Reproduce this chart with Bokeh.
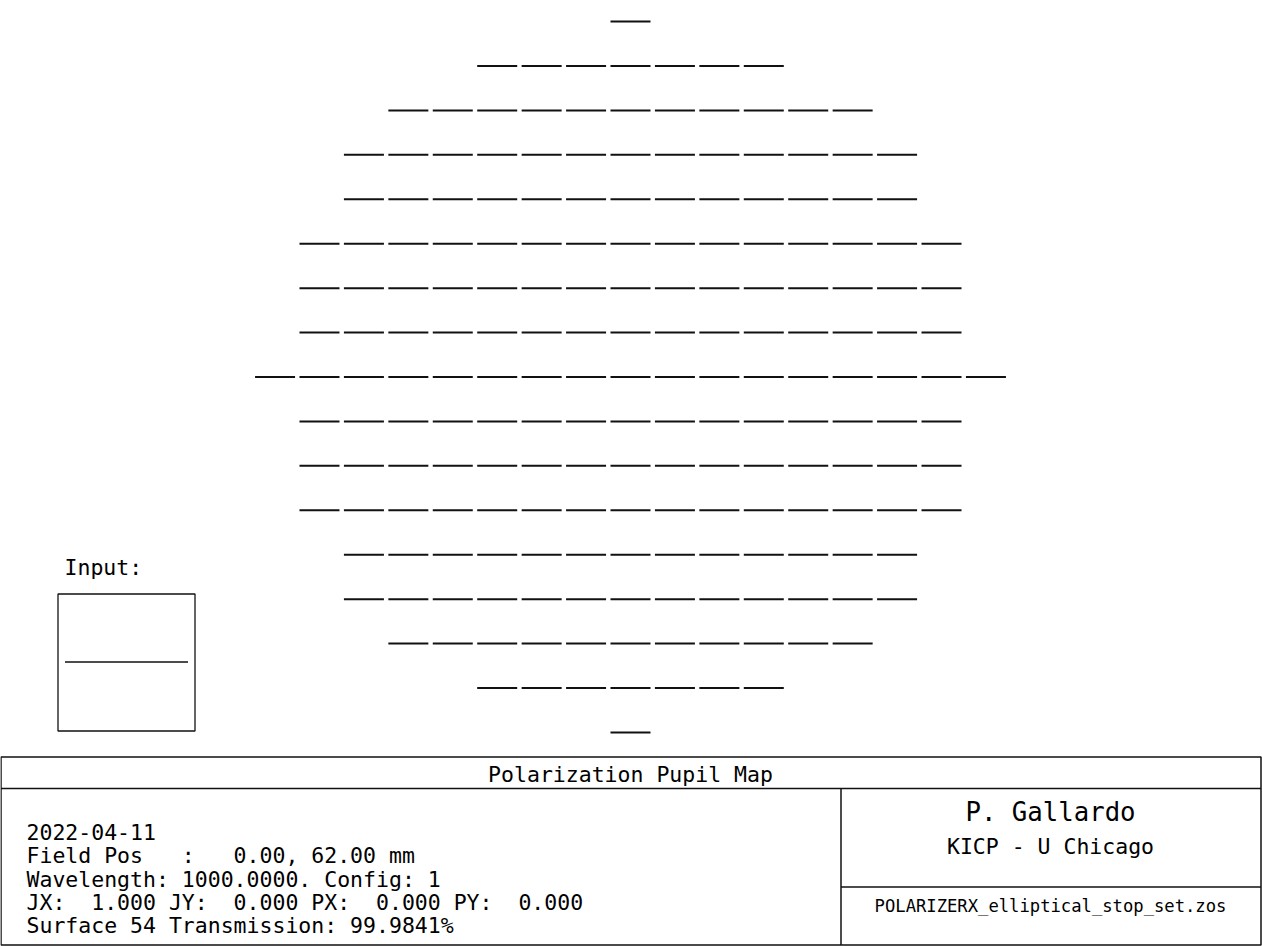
from bokeh.plotting import figure
from bokeh.models import Range1d
from bokeh.core.properties import value
from bokeh.embed import file_html
from bokeh.resources import INLINE
import math

# ---- data ----
# number of sampled pupil points in each row (top to bottom), 17x17 grid
row_counts = [1, 7, 11, 13, 13, 15, 15, 15, 17, 15, 15, 15, 13, 13, 11, 7, 1]
# polarization ellipse orientation (deg) and normalized major axis per row (all linear X)
row_angles = [0.0] * 17
row_major = [1.0] * 17

title = "Polarization Pupil Map"
info_lines = [
    "2022-04-11",
    "Field Pos   :   0.00, 62.00 mm",
    "Wavelength: 1000.0000. Config: 1",
    "JX:  1.000 JY:  0.000 PX:  0.000 PY:  0.000",
    "Surface 54 Transmission: 99.9841%",
]
author = "P. Gallardo"
institute = "KICP - U Chicago"
filename = "POLARIZERX_elliptical_stop_set.zos"

# ---- layout (pixels) ----
W, H = 1262, 946
cx, cy = 630.0, 376.5
pitch = 44.43
half_len = 20.0
FONT = "DejaVu Sans Mono"


def keep_spaces(s):
    # SVG collapses runs of spaces; use no-break spaces to keep monospace alignment
    return s.replace(" ", "\u00a0")


x0s, y0s, x1s, y1s = [], [], [], []
nrows = len(row_counts)
for r, n in enumerate(row_counts):
    yv = cy + (r - (nrows - 1) / 2) * pitch
    a = math.radians(row_angles[r])
    L = half_len * row_major[r]
    for k in range(n):
        xv = cx + (k - (n - 1) / 2) * pitch
        dx, dy = L * math.cos(a), -L * math.sin(a)
        x0s.append(xv - dx); x1s.append(xv + dx)
        y0s.append(yv - dy); y1s.append(yv + dy)

p = figure(width=W, height=H, x_range=Range1d(0, W), y_range=Range1d(H, 0),
           output_backend="svg", toolbar_location=None, min_border=0)
p.axis.visible = False
p.grid.visible = False
p.outline_line_color = None
p.background_fill_color = "white"
p.border_fill_color = "white"

p.segment(x0=x0s, y0=y0s, x1=x1s, y1=y1s, line_color="#111111", line_width=2)

# input box
p.quad(left=[57.5], right=[194.5], top=[593.5], bottom=[730.5],
       fill_color=None, line_color="#111111", line_width=1.3)
p.segment(x0=[64.5], y0=[661.5], x1=[187.5], y1=[661.5], line_color="#111111", line_width=1.5)
p.text(x=[64], y=[567], text=["Input:"], text_font=value(FONT), text_font_size="21.5px",
       text_baseline="middle", text_align="left", text_color="black")

# title block frame
lc = "#111111"
p.quad(left=[0.5], right=[1260.5], top=[756.5], bottom=[944.5], fill_color=None,
       line_color=lc, line_width=1.5)
p.segment(x0=[0.5, 840.5, 840.5], y0=[788.0, 788.0, 886.5],
          x1=[1260.5, 840.5, 1260.5], y1=[788.0, 944.5, 886.5], line_color=lc, line_width=1.5)

p.text(x=[630], y=[774], text=[keep_spaces(title)], text_font=value(FONT), text_font_size="21.5px",
       text_baseline="middle", text_align="center", text_color="black")

ys = [831, 855, 878.5, 902, 925]
p.text(x=[26] * len(info_lines), y=ys, text=[keep_spaces(s) for s in info_lines],
       text_font=value(FONT), text_font_size="21.5px", text_baseline="middle",
       text_align="left", text_color="black")

p.text(x=[1050], y=[811], text=[keep_spaces(author)], text_font=value(FONT), text_font_size="25.7px",
       text_baseline="middle", text_align="center", text_color="black")
p.text(x=[1050], y=[846], text=[keep_spaces(institute)], text_font=value(FONT), text_font_size="21.5px",
       text_baseline="middle", text_align="center", text_color="black")
p.text(x=[1050], y=[905], text=[filename], text_font=value(FONT), text_font_size="17.2px",
       text_baseline="middle", text_align="center", text_color="black")

open("out.html", "w").write(file_html(p, INLINE))
